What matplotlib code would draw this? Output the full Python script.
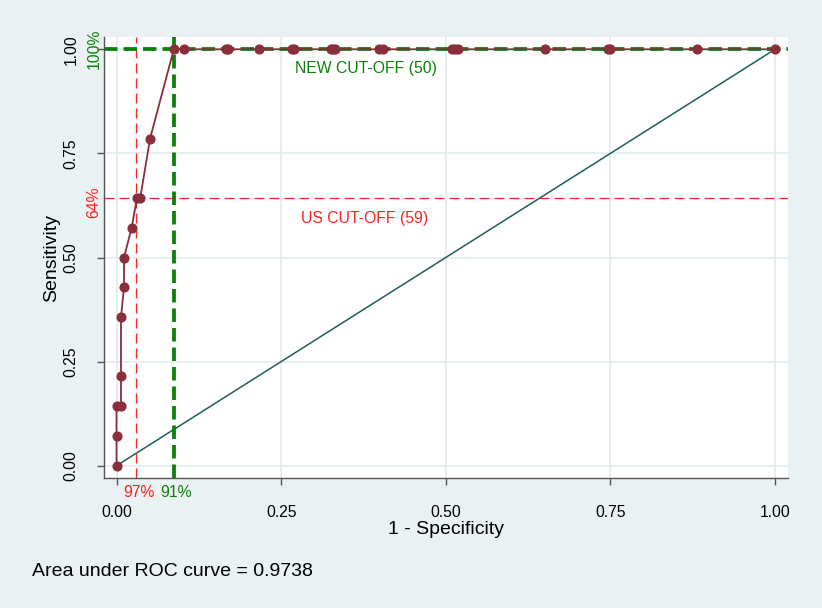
import matplotlib
matplotlib.use("Agg")
import matplotlib.pyplot as plt
import matplotlib.transforms as mtrans

plt.rcParams['font.family'] = ['Liberation Sans', 'DejaVu Sans']

# ---- data ----
n_pos = 14
fpr = [0.0, 0.0, 0.0, 0.0068, 0.0068, 0.0068, 0.0114, 0.0114, 0.023, 0.031, 0.036,
       0.051, 0.087, 0.103, 0.166, 0.169, 0.216, 0.267, 0.269, 0.326, 0.329, 0.332,
       0.399, 0.404, 0.510, 0.514, 0.519, 0.651, 0.747, 0.750, 0.882, 1.0]
tp_count = [0, 1, 2, 2, 3, 5, 6, 7, 8, 9, 9, 11, 14, 14, 14, 14, 14, 14, 14, 14,
            14, 14, 14, 14, 14, 14, 14, 14, 14, 14, 14, 14]
tpr = [c / n_pos for c in tp_count]

x_ticks = [0.0, 0.25, 0.5, 0.75, 1.0]
x_ticklabels = ['0.00', '0.25', '0.50', '0.75', '1.00']
y_ticks = [0.0, 0.25, 0.5, 0.75, 1.0]
y_ticklabels = ['0.00', '0.25', '0.50', '0.75', '1.00']

us_cut_fpr = 0.03
us_cut_tpr = 9 / 14
new_cut_fpr = 0.087
new_cut_tpr = 1.0
auc_text = 'Area under ROC curve = 0.9738'

# ---- style ----
BG = '#eaf1f3'
MAROON = '#8b2e3b'
TEAL = '#1f5e5a'
RED = '#ff2020'
GREEN = '#0a800a'
GRID = '#e4ecef'
AXC = '#555555'

fig = plt.figure(figsize=(8.22, 6.08), dpi=100, facecolor=BG)
W, H = 822, 608
ax = fig.add_axes([104 / W, 130 / H, 684 / W, 441 / H])
ax.set_facecolor('white')

ax.set_xlim(-0.019, 1.0197)
ax.set_ylim(-0.0295, 1.0295)

for t in x_ticks:
    ax.axvline(t, color=GRID, lw=1.2, zorder=0)
for t in y_ticks:
    ax.axhline(t, color=GRID, lw=1.2, zorder=0)

# diagonal reference
ax.plot([0, 1], [0, 1], color=TEAL, lw=1.1, zorder=2)

# cut-off lines
ax.axhline(us_cut_tpr, color=RED, lw=0.9, linestyle=(0, (8, 4)), zorder=2)
ax.axvline(us_cut_fpr, color=RED, lw=0.9, linestyle=(0, (8, 4)), zorder=2)
ax.axhline(new_cut_tpr, color=GREEN, lw=2.7, linestyle=(0, (3.6, 1.6)), zorder=2)
ax.axvline(new_cut_fpr, color=GREEN, lw=2.7, linestyle=(0, (3.6, 1.6)), zorder=2)

# ROC curve
ax.plot(fpr, tpr, color=MAROON, lw=1.3, marker='o', markersize=6.3,
        markerfacecolor=MAROON, markeredgecolor=MAROON, zorder=3)

# annotations in plot
ax.text(0.379, 0.953, 'NEW CUT-OFF (50)', color=GREEN, fontsize=11.3,
        ha='center', va='center')
ax.text(0.376, 0.593, 'US CUT-OFF (59)', color=RED, fontsize=11.3,
        ha='center', va='center')

# spines
for s in ['top', 'right']:
    ax.spines[s].set_visible(False)
for s in ['left', 'bottom']:
    ax.spines[s].set_color(AXC)
    ax.spines[s].set_linewidth(1.0)

ax.set_xticks(x_ticks)
ax.set_xticklabels(x_ticklabels)
ax.set_yticks(y_ticks)
ax.set_yticklabels(y_ticklabels, rotation=90, va='center')
ax.tick_params(axis='both', direction='out', length=5, width=1.0, color=AXC,
               labelsize=11.3, labelcolor='black')
ax.tick_params(axis='x', pad=14.5)
ax.tick_params(axis='y', pad=13.5)

# percentage labels near axes
tx = mtrans.blended_transform_factory(ax.transData, ax.transAxes)
ty = mtrans.blended_transform_factory(ax.transAxes, ax.transData)
ax.text(0.034, -0.034, '97%', color=RED, fontsize=11.3, ha='center', va='center',
        transform=tx, clip_on=False)
ax.text(0.091, -0.034, '91%', color=GREEN, fontsize=11.3, ha='center', va='center',
        transform=tx, clip_on=False)
ax.text(-0.0146, 1.0, '100%', color=GREEN, fontsize=11.3, ha='center', va='center',
        rotation=90, transform=ty, clip_on=False)
ax.text(-0.0146, 0.633, '64%', color=RED, fontsize=11.3, ha='center', va='center',
        rotation=90, transform=ty, clip_on=False)

# axis titles
fig.text(51.5 / W, 1 - 258 / H, 'Sensitivity', rotation=90, fontsize=14,
         ha='center', va='center')
fig.text(446 / W, 1 - 530 / H, '1 - Specificity', fontsize=14,
         ha='center', va='center')
fig.text(32 / W, 1 - 571 / H, auc_text, fontsize=14, ha='left', va='center')

fig.savefig('out.png', dpi=100, facecolor=BG)
